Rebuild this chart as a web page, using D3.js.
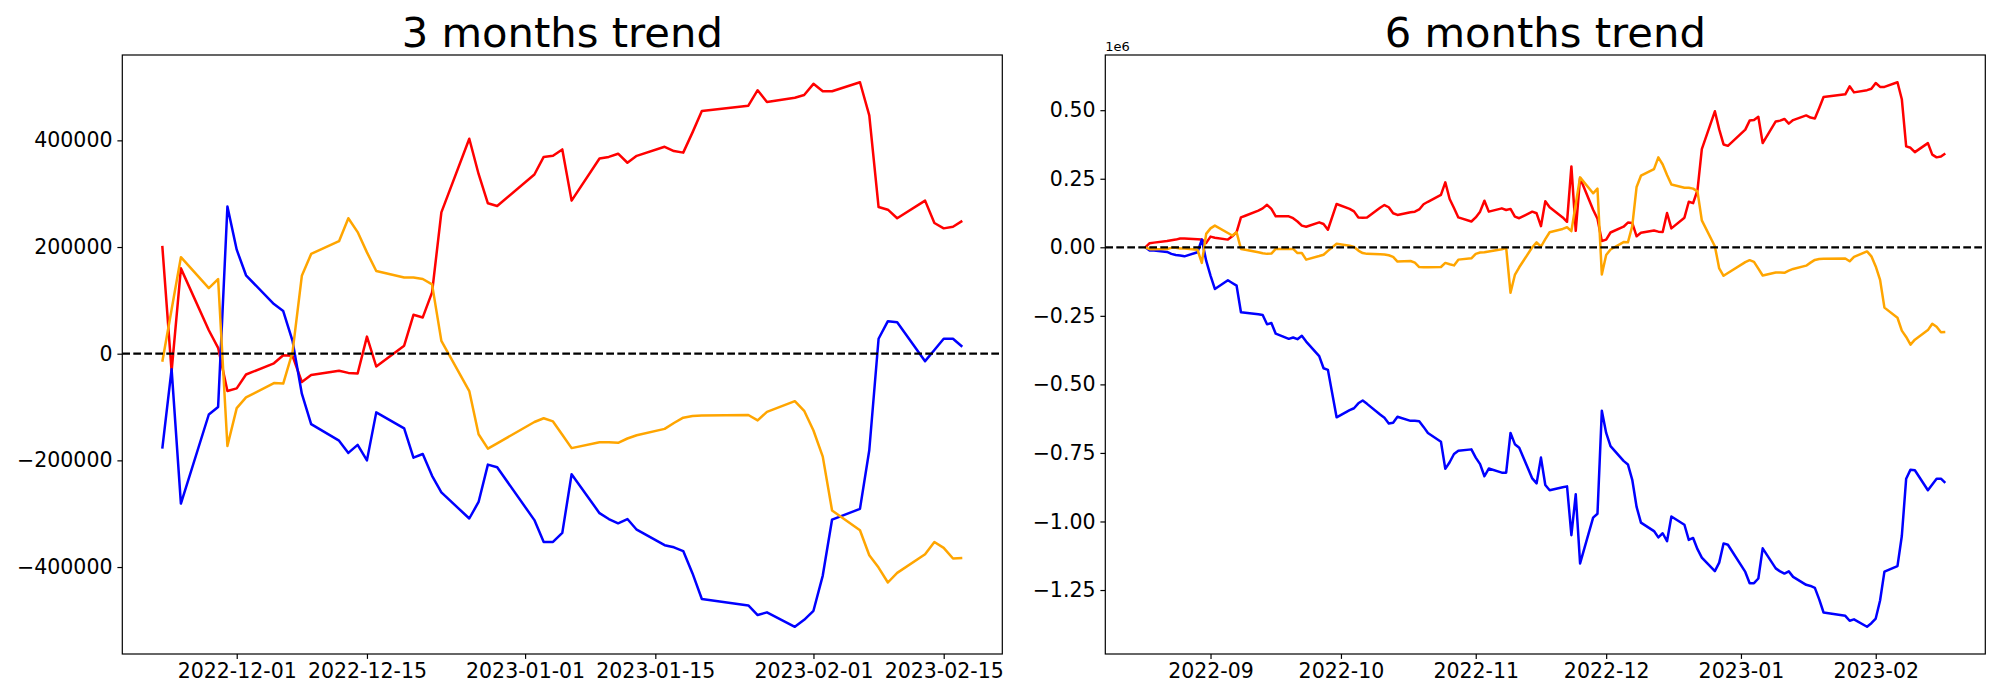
<!DOCTYPE html>
<html><head><meta charset="utf-8">
<script src="https://cdn.jsdelivr.net/npm/d3@7"></script>
<style>
body{margin:0;background:#fff}
svg{display:block}
text{font-family:"DejaVu Sans",sans-serif;fill:#000}
</style>
</head><body>
<svg id="chart" width="2000" height="700"></svg>
<script>
// ---------- 3 months panel ----------
const dates3m = ["2022-11-23","2022-11-24","2022-11-25","2022-11-28","2022-11-29","2022-11-30","2022-12-01","2022-12-02","2022-12-05","2022-12-06","2022-12-07","2022-12-08","2022-12-09","2022-12-12","2022-12-13","2022-12-14","2022-12-15","2022-12-16","2022-12-19","2022-12-20","2022-12-21","2022-12-22","2022-12-23","2022-12-26","2022-12-27","2022-12-28","2022-12-29","2023-01-02","2023-01-03","2023-01-04","2023-01-05","2023-01-06","2023-01-09","2023-01-10","2023-01-11","2023-01-12","2023-01-13","2023-01-16","2023-01-17","2023-01-18","2023-01-19","2023-01-20","2023-01-25","2023-01-26","2023-01-27","2023-01-30","2023-01-31","2023-02-01","2023-02-02","2023-02-03","2023-02-06","2023-02-07","2023-02-08","2023-02-09","2023-02-10","2023-02-13","2023-02-14","2023-02-15","2023-02-16","2023-02-17"];
const red3m = [202000,-33000,160000,44000,11000,-70000,-65000,-39000,-18000,-3000,-4000,-53000,-40000,-32000,-36000,-37000,32000,-24000,15000,73000,68000,115000,265000,403000,337000,282000,277000,336000,369000,371000,383000,287000,366000,369000,375000,358000,371000,388000,380000,377000,415000,455000,465000,494000,472000,480000,485000,506000,492000,492000,509000,447000,275000,270000,254000,287000,245000,235000,238000,249000];
const blue3m = [-178000,-29000,-281000,-114000,-100000,276000,195000,147000,93000,80000,24000,-75000,-132000,-163000,-186000,-171000,-200000,-110000,-140000,-195000,-188000,-229000,-260000,-309000,-278000,-208000,-213000,-312000,-353000,-353000,-336000,-226000,-299000,-310000,-318000,-310000,-330000,-359000,-363000,-370000,-412000,-460000,-472000,-490000,-485000,-512000,-499000,-482000,-416000,-311000,-291000,-181000,28000,61000,59000,-14000,7000,28000,28000,13000];
const orange3m = [-15000,83000,181000,123000,140000,-173000,-102000,-82000,-55000,-56000,3000,146000,187000,211000,254000,228000,190000,155000,143000,143000,140000,130000,24000,-70000,-151000,-178000,-168000,-128000,-121000,-127000,-152000,-177000,-166000,-166000,-167000,-159000,-153000,-141000,-130000,-120000,-117000,-116000,-115000,-125000,-109000,-89000,-107000,-144000,-193000,-294000,-331000,-378000,-401000,-429000,-411000,-376000,-353000,-364000,-384000,-383000];
const xTicks3m = ["2022-12-01","2022-12-15","2023-01-01","2023-01-15","2023-02-01","2023-02-15"];
const yTicks3m = [-400000,-200000,0,200000,400000];

// ---------- 6 months panel ----------
const dates6m = ["2022-08-17","2022-08-18","2022-08-19","2022-08-22","2022-08-23","2022-08-24","2022-08-25","2022-08-26","2022-08-29","2022-08-30","2022-08-31",
"2022-09-01","2022-09-02","2022-09-05","2022-09-06","2022-09-07","2022-09-08","2022-09-09","2022-09-12","2022-09-13","2022-09-14","2022-09-15","2022-09-16","2022-09-19","2022-09-20","2022-09-21","2022-09-22","2022-09-23","2022-09-26","2022-09-27","2022-09-28","2022-09-30",
"2022-10-03","2022-10-04","2022-10-05","2022-10-06","2022-10-07","2022-10-10","2022-10-11","2022-10-12","2022-10-13","2022-10-14","2022-10-17","2022-10-18","2022-10-19","2022-10-20","2022-10-21","2022-10-24","2022-10-25","2022-10-26","2022-10-27","2022-10-28","2022-10-31",
"2022-11-01","2022-11-02","2022-11-03","2022-11-04","2022-11-07","2022-11-08","2022-11-09","2022-11-10","2022-11-11","2022-11-14","2022-11-15","2022-11-16","2022-11-17","2022-11-18","2022-11-21","2022-11-22",
"2022-11-23","2022-11-24","2022-11-25","2022-11-28","2022-11-29","2022-11-30","2022-12-01","2022-12-02","2022-12-05","2022-12-06","2022-12-07","2022-12-08","2022-12-09","2022-12-12","2022-12-13","2022-12-14","2022-12-15","2022-12-16","2022-12-19","2022-12-20","2022-12-21","2022-12-22","2022-12-23","2022-12-26","2022-12-27","2022-12-28","2022-12-29","2023-01-02","2023-01-03","2023-01-04","2023-01-05","2023-01-06","2023-01-09","2023-01-10","2023-01-11","2023-01-12","2023-01-13","2023-01-16","2023-01-17","2023-01-18","2023-01-19","2023-01-20","2023-01-25","2023-01-26","2023-01-27","2023-01-30","2023-01-31","2023-02-01","2023-02-02","2023-02-03","2023-02-06","2023-02-07","2023-02-08","2023-02-09","2023-02-10","2023-02-13","2023-02-14","2023-02-15","2023-02-16","2023-02-17"];
const red6m = [0,15000,17000,23000,26000,28000,32000,32000,29000,28000,16000,
39000,35000,28000,40000,55000,109000,115000,134000,142000,155000,140000,113000,113000,106000,94000,79000,75000,91000,85000,64000,158000,
140000,131000,109000,108000,109000,144000,154000,146000,124000,118000,128000,130000,138000,157000,166000,191000,237000,176000,143000,109000,94000,
109000,130000,170000,130000,142000,136000,140000,112000,106000,130000,124000,77000,168000,146000,109000,93000,
295000,60000,253000,137000,104000,23000,28000,54000,75000,90000,89000,40000,53000,61000,57000,56000,125000,69000,108000,166000,161000,208000,358000,496000,430000,375000,370000,429000,462000,464000,476000,380000,459000,462000,468000,451000,464000,481000,473000,470000,508000,548000,558000,587000,565000,573000,578000,599000,585000,585000,602000,540000,368000,363000,347000,380000,338000,328000,331000,342000];
const blue6m = [0,-12000,-12000,-17000,-24000,-28000,-30000,-33000,-18000,28000,-49000,
-103000,-152000,-120000,-130000,-140000,-237000,-239000,-244000,-247000,-281000,-276000,-315000,-334000,-329000,-335000,-323000,-344000,-397000,-441000,-447000,-620000,
-594000,-587000,-569000,-559000,-571000,-610000,-622000,-643000,-640000,-618000,-633000,-633000,-634000,-655000,-677000,-709000,-808000,-784000,-754000,-742000,-737000,
-767000,-791000,-835000,-807000,-822000,-822000,-677000,-718000,-731000,-843000,-861000,-767000,-867000,-886000,-875000,-872000,
-1050000,-901000,-1153000,-986000,-972000,-596000,-677000,-725000,-779000,-792000,-848000,-947000,-1004000,-1035000,-1058000,-1043000,-1072000,-982000,-1012000,-1067000,-1060000,-1101000,-1132000,-1181000,-1150000,-1080000,-1085000,-1184000,-1225000,-1225000,-1208000,-1098000,-1171000,-1182000,-1190000,-1182000,-1202000,-1231000,-1235000,-1242000,-1284000,-1332000,-1344000,-1362000,-1357000,-1384000,-1371000,-1354000,-1288000,-1183000,-1163000,-1053000,-844000,-811000,-813000,-886000,-865000,-844000,-844000,-859000];
const orange6m = [0,-7000,-7000,-6000,-2000,-2000,-4000,-4000,-9000,-57000,49000,
69000,79000,52000,43000,55000,-6000,-9000,-18000,-22000,-24000,-23000,-6000,-6000,-6000,-21000,-21000,-45000,-32000,-27000,-13000,13000,
6000,1000,-12000,-21000,-24000,-25000,-26000,-29000,-35000,-52000,-50000,-56000,-72000,-73000,-73000,-72000,-57000,-62000,-66000,-45000,-40000,
-24000,-19000,-18000,-15000,-7000,-2000,-166000,-101000,-73000,0,18000,2000,30000,55000,67000,73000,
59000,157000,255000,197000,214000,-99000,-28000,-8000,19000,18000,77000,220000,261000,285000,328000,302000,264000,229000,217000,217000,214000,204000,98000,4000,-77000,-104000,-94000,-54000,-47000,-53000,-78000,-103000,-92000,-92000,-93000,-85000,-79000,-67000,-56000,-46000,-43000,-42000,-41000,-51000,-35000,-15000,-33000,-70000,-119000,-220000,-257000,-304000,-327000,-355000,-337000,-302000,-279000,-290000,-310000,-309000];
const xTicks6m = ["2022-09","2022-10","2022-11","2022-12","2023-01","2023-02"];
const yTicks6m = [-1250000,-1000000,-750000,-500000,-250000,0,250000,500000];

const titles = ["3 months trend", "6 months trend"];
const seriesColors = ["red", "blue", "orange"];

const svg = d3.select("#chart");
const parseDay = d3.utcParse("%Y-%m-%d");
const parseMonth = d3.utcParse("%Y-%m");
const minus = s => s.replace(/^-/, "\u2212");

function panel(cfg) {
  const {x0, x1, y0, y1} = cfg.box;
  const dates = cfg.dates.map(parseDay);
  const t0 = +dates[0], t1 = +dates[dates.length - 1], span = t1 - t0;
  const x = d3.scaleUtc().domain([new Date(t0 - 0.05 * span), new Date(t1 + 0.05 * span)]).range([x0, x1]);
  const all = cfg.series.flat();
  const lo = d3.min(all), hi = d3.max(all), r = hi - lo;
  const y = d3.scaleLinear().domain([lo - 0.05 * r, hi + 0.05 * r]).range([y1, y0]);

  const g = svg.append("g");
  const line = d3.line().x((d, i) => x(dates[i])).y(d => y(d));
  cfg.series.forEach((vals, k) => {
    g.append("path").attr("d", line(vals)).attr("fill", "none")
      .attr("stroke", seriesColors[k]).attr("stroke-width", 2.5)
      .attr("stroke-linejoin", "round");
  });
  g.append("line").attr("x1", x0).attr("x2", x1).attr("y1", y(0)).attr("y2", y(0))
    .attr("stroke", "#000").attr("stroke-width", 2.3).attr("stroke-dasharray", "7.7,3.3");

  const xa = g.append("g").attr("transform", `translate(0,${y1})`)
    .call(d3.axisBottom(x).tickValues(cfg.xTicks.map(cfg.xParse)).tickFormat(cfg.xFormat)
      .tickSize(4.9).tickPadding(4.4).tickSizeOuter(0));
  const ya = g.append("g").attr("transform", `translate(${x0},0)`)
    .call(d3.axisLeft(y).tickValues(cfg.yTicks).tickFormat(cfg.yFormat)
      .tickSize(4.9).tickPadding(4.9).tickSizeOuter(0));
  [xa, ya].forEach(a => {
    a.select(".domain").remove();
    a.selectAll(".tick line").attr("stroke", "#000").attr("stroke-width", 1.2);
    a.selectAll(".tick text").attr("font-size", 20.5).attr("font-family", "DejaVu Sans").attr("fill", "#000");
  });

  g.append("rect").attr("x", x0).attr("y", y0).attr("width", x1 - x0).attr("height", y1 - y0)
    .attr("fill", "none").attr("stroke", "#000").attr("stroke-width", 1.2);

  g.append("text").attr("x", (x0 + x1) / 2).attr("y", 46.5).attr("text-anchor", "middle")
    .attr("font-size", 41.7).text(cfg.title);
  if (cfg.offsetText) {
    g.append("text").attr("x", x0).attr("y", 50.5).attr("font-size", 13).text(cfg.offsetText);
  }
}

panel({
  box: {x0: 122.3, x1: 1002.3, y0: 55, y1: 654},
  dates: dates3m, series: [red3m, blue3m, orange3m],
  xTicks: xTicks3m, xParse: parseDay, xFormat: d3.utcFormat("%Y-%m-%d"),
  yTicks: yTicks3m, yFormat: d => minus(String(d)),
  title: titles[0]
});
panel({
  box: {x0: 1105.3, x1: 1985.3, y0: 55, y1: 654},
  dates: dates6m, series: [red6m, blue6m, orange6m],
  xTicks: xTicks6m, xParse: parseMonth, xFormat: d3.utcFormat("%Y-%m"),
  yTicks: yTicks6m, yFormat: d => minus((d / 1e6).toFixed(2)),
  title: titles[1], offsetText: "1e6"
});
</script>
</body></html>
